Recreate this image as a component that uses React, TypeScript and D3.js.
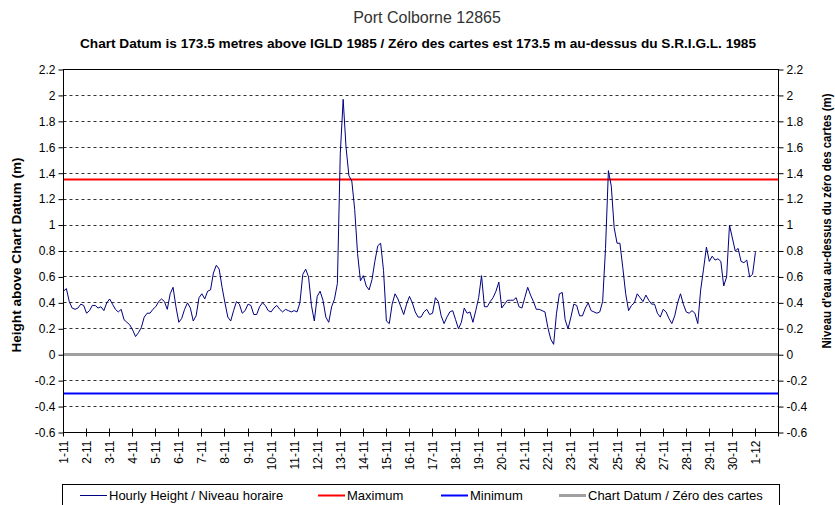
import React, { useEffect, useRef } from 'react'
import * as d3 from 'd3'

// Port Colborne 12865, November: one reading every 3 hours from 1-11 00:00
const stepHours = 3
const levels = [
  0.49, 0.51, 0.41, 0.36, 0.35, 0.36, 0.39, 0.38, 0.32, 0.34,
  0.38, 0.38, 0.36, 0.37, 0.34, 0.40, 0.43, 0.39, 0.35, 0.33,
  0.35, 0.27, 0.25, 0.23, 0.19, 0.14, 0.17, 0.21, 0.29, 0.32,
  0.32, 0.35, 0.37, 0.41, 0.43, 0.41, 0.35, 0.47, 0.52, 0.37,
  0.25, 0.28, 0.35, 0.40, 0.36, 0.26, 0.30, 0.44, 0.47, 0.43,
  0.49, 0.50, 0.63, 0.69, 0.66, 0.52, 0.40, 0.29, 0.26, 0.34,
  0.41, 0.39, 0.32, 0.34, 0.39, 0.38, 0.31, 0.31, 0.37, 0.40,
  0.38, 0.34, 0.33, 0.36, 0.38, 0.35, 0.33, 0.35, 0.34, 0.33,
  0.34, 0.33, 0.40, 0.62, 0.66, 0.60, 0.38, 0.26, 0.45, 0.49,
  0.42, 0.29, 0.25, 0.37, 0.43, 0.55, 1.55, 1.97, 1.60, 1.38,
  1.34, 1.12, 0.78, 0.57, 0.61, 0.53, 0.50, 0.58, 0.72, 0.84,
  0.86, 0.65, 0.26, 0.24, 0.39, 0.47, 0.43, 0.37, 0.31, 0.39,
  0.45, 0.40, 0.33, 0.29, 0.29, 0.33, 0.35, 0.31, 0.32, 0.44,
  0.41, 0.30, 0.24, 0.29, 0.33, 0.34, 0.27, 0.20, 0.25, 0.36,
  0.32, 0.33, 0.25, 0.34, 0.44, 0.61, 0.37, 0.37, 0.41, 0.44,
  0.49, 0.56, 0.36, 0.39, 0.42, 0.42, 0.42, 0.44, 0.37, 0.36,
  0.44, 0.52, 0.46, 0.41, 0.35, 0.35, 0.34, 0.33, 0.21, 0.12,
  0.08, 0.32, 0.47, 0.48, 0.27, 0.20, 0.29, 0.39, 0.38, 0.30,
  0.30, 0.36, 0.40, 0.34, 0.33, 0.32, 0.33, 0.41, 0.82, 1.42,
  1.30, 0.98, 0.86, 0.86, 0.67, 0.47, 0.34, 0.38, 0.40, 0.47,
  0.44, 0.41, 0.46, 0.42, 0.39, 0.39, 0.32, 0.29, 0.35, 0.33,
  0.28, 0.24, 0.30, 0.40, 0.47, 0.39, 0.33, 0.32, 0.34, 0.32,
  0.24, 0.50, 0.66, 0.83, 0.72, 0.76, 0.73, 0.74, 0.72, 0.53,
  0.60, 1.00, 0.90, 0.80, 0.82, 0.72, 0.71, 0.73, 0.60, 0.62,
  0.79
]

const maximumLevel = 1.35
const minimumLevel = -0.3
const chartDatumLevel = 0

const dayLabels = [
  '1-11', '2-11', '3-11', '4-11', '5-11', '6-11', '7-11', '8-11', '9-11', '10-11',
  '11-11', '12-11', '13-11', '14-11', '15-11', '16-11', '17-11', '18-11', '19-11', '20-11',
  '21-11', '22-11', '23-11', '24-11', '25-11', '26-11', '27-11', '28-11', '29-11', '30-11',
  '1-12'
]
const axisDays = 31

const yTicks = [-0.6, -0.4, -0.2, 0, 0.2, 0.4, 0.6, 0.8, 1, 1.2, 1.4, 1.6, 1.8, 2, 2.2]

const legendItems = [
  { label: 'Hourly Height / Niveau horaire', color: '#000080', width: 1, x: 80 },
  { label: 'Maximum', color: '#ff0000', width: 2, x: 318 },
  { label: 'Minimum', color: '#0000ff', width: 2, x: 441 },
  { label: 'Chart Datum / Zéro des cartes', color: '#a0a0a0', width: 3, x: 559 }
]

const FONT = "'Liberation Sans', Arial, sans-serif"

function App() {
  const d3Container = useRef<SVGSVGElement>(null)

  useEffect(() => {
    const W = 835, H = 505
    const margin = { left: 63, right: 57, top: 69, bottom: 73 }
    const width = W - margin.left - margin.right
    const height = H - margin.top - margin.bottom

    const svg = d3.select(d3Container.current)
    svg.selectAll('*').remove()
    svg.attr('width', W).attr('height', H)
      .attr('font-family', FONT)

    // titles
    svg.append('text')
      .attr('x', 427).attr('y', 23)
      .attr('text-anchor', 'middle')
      .attr('font-size', 16)
      .attr('fill', '#333')
      .text('Port Colborne 12865')
    svg.append('text')
      .attr('x', 418).attr('y', 48)
      .attr('text-anchor', 'middle')
      .attr('font-size', 13)
      .attr('font-weight', 'bold')
      .attr('textLength', 676)
      .attr('lengthAdjust', 'spacingAndGlyphs')
      .text('Chart Datum is 173.5 metres above IGLD 1985 / Zéro des cartes est 173.5 m au-dessus du S.R.I.G.L. 1985')

    const chart = svg.append('g')
      .attr('transform', `translate(${margin.left + 0.5}, ${margin.top + 0.5})`)

    const x = d3.scaleLinear()
      .domain([0, axisDays * 24])
      .range([0, width])
    const y = d3.scaleLinear()
      .domain([-0.6, 2.2])
      .range([height, 0])
    const py = (v: number) => Math.round(y(v))

    // dashed gridlines
    chart.append('g')
      .selectAll('line')
      .data(yTicks.slice(1, -1))
      .join('line')
      .attr('x1', 0).attr('x2', width)
      .attr('y1', d => py(d)).attr('y2', d => py(d))
      .attr('stroke', '#333')
      .attr('stroke-dasharray', '3 3')

    // reference levels
    const refs = [
      { v: chartDatumLevel, color: '#a0a0a0', w: 3 },
      { v: maximumLevel, color: '#ff0000', w: 2 },
      { v: minimumLevel, color: '#0000ff', w: 2 }
    ]
    chart.append('g')
      .selectAll('line')
      .data(refs)
      .join('line')
      .attr('x1', 0).attr('x2', width)
      .attr('y1', d => py(d.v)).attr('y2', d => py(d.v))
      .attr('stroke', d => d.color)
      .attr('stroke-width', d => d.w)

    // hourly height line
    const line = d3.line<number>()
      .x((d, i) => x(i * stepHours))
      .y(d => y(d))
    chart.append('path')
      .datum(levels)
      .attr('fill', 'none')
      .attr('stroke', '#000080')
      .attr('stroke-width', 1)
      .attr('stroke-linejoin', 'round')
      .attr('d', line)

    // plot frame
    chart.append('rect')
      .attr('width', width).attr('height', height)
      .attr('fill', 'none').attr('stroke', '#000')

    // y axes
    const fmt = (d: d3.NumberValue) => `${d}`
    const left = chart.append('g')
      .call(d3.axisLeft(y).tickValues(yTicks).tickSize(5).tickSizeOuter(0).tickPadding(3).tickFormat(fmt))
    const right = chart.append('g')
      .attr('transform', `translate(${width}, 0)`)
      .call(d3.axisRight(y).tickValues(yTicks).tickSize(5).tickSizeOuter(0).tickPadding(3).tickFormat(fmt))
    ;[left, right].forEach(g => {
      g.select('.domain').remove()
      g.selectAll('line').attr('stroke', '#000')
      g.selectAll('text').attr('font-size', 12).attr('font-family', FONT).attr('fill', '#000')
    })

    // x axis with crossing ticks and vertical day labels
    const xAxis = chart.append('g').attr('transform', `translate(0, ${height})`)
    const days = d3.range(axisDays + 1)
    xAxis.selectAll('line')
      .data(days)
      .join('line')
      .attr('x1', d => Math.round(x(d * 24))).attr('x2', d => Math.round(x(d * 24)))
      .attr('y1', -4).attr('y2', 4)
      .attr('stroke', '#000')
    xAxis.selectAll('text')
      .data(dayLabels)
      .join('text')
      .attr('transform', (d, i) => `translate(${Math.round(x(i * 24)) + 4}, 8) rotate(-90)`)
      .attr('text-anchor', 'end')
      .attr('font-size', 12)
      .text(d => d)

    // axis titles
    svg.append('text')
      .attr('transform', 'translate(21, 255) rotate(-90)')
      .attr('text-anchor', 'middle')
      .attr('font-size', 13)
      .attr('font-weight', 'bold')
      .attr('textLength', 195)
      .attr('lengthAdjust', 'spacingAndGlyphs')
      .text('Height above Chart Datum (m)')
    svg.append('text')
      .attr('transform', 'translate(831, 221) rotate(-90)')
      .attr('text-anchor', 'middle')
      .attr('font-size', 13)
      .attr('font-weight', 'bold')
      .attr('textLength', 255)
      .attr('lengthAdjust', 'spacingAndGlyphs')
      .text("Niveau d'eau au-dessus du zéro des cartes (m)")

    // legend
    const legend = svg.append('g')
    legend.append('rect')
      .attr('x', 62.5).attr('y', 484.5)
      .attr('width', 717).attr('height', 30)
      .attr('fill', '#fff').attr('stroke', '#000')
    const item = legend.selectAll('g.item')
      .data(legendItems)
      .join('g')
      .attr('class', 'item')
      .attr('transform', d => `translate(${d.x}, 495.5)`)
    item.append('line')
      .attr('x1', 0).attr('x2', 27)
      .attr('stroke', d => d.color)
      .attr('stroke-width', d => d.width)
    item.append('text')
      .attr('x', 29).attr('y', 4.5)
      .attr('font-size', 13)
      .text(d => d.label)
  }, [])

  return (
    <div style={{ position: 'absolute', left: 0, top: 0 }}>
      <svg ref={d3Container} style={{ display: 'block' }} />
    </div>
  )
}

export default App
